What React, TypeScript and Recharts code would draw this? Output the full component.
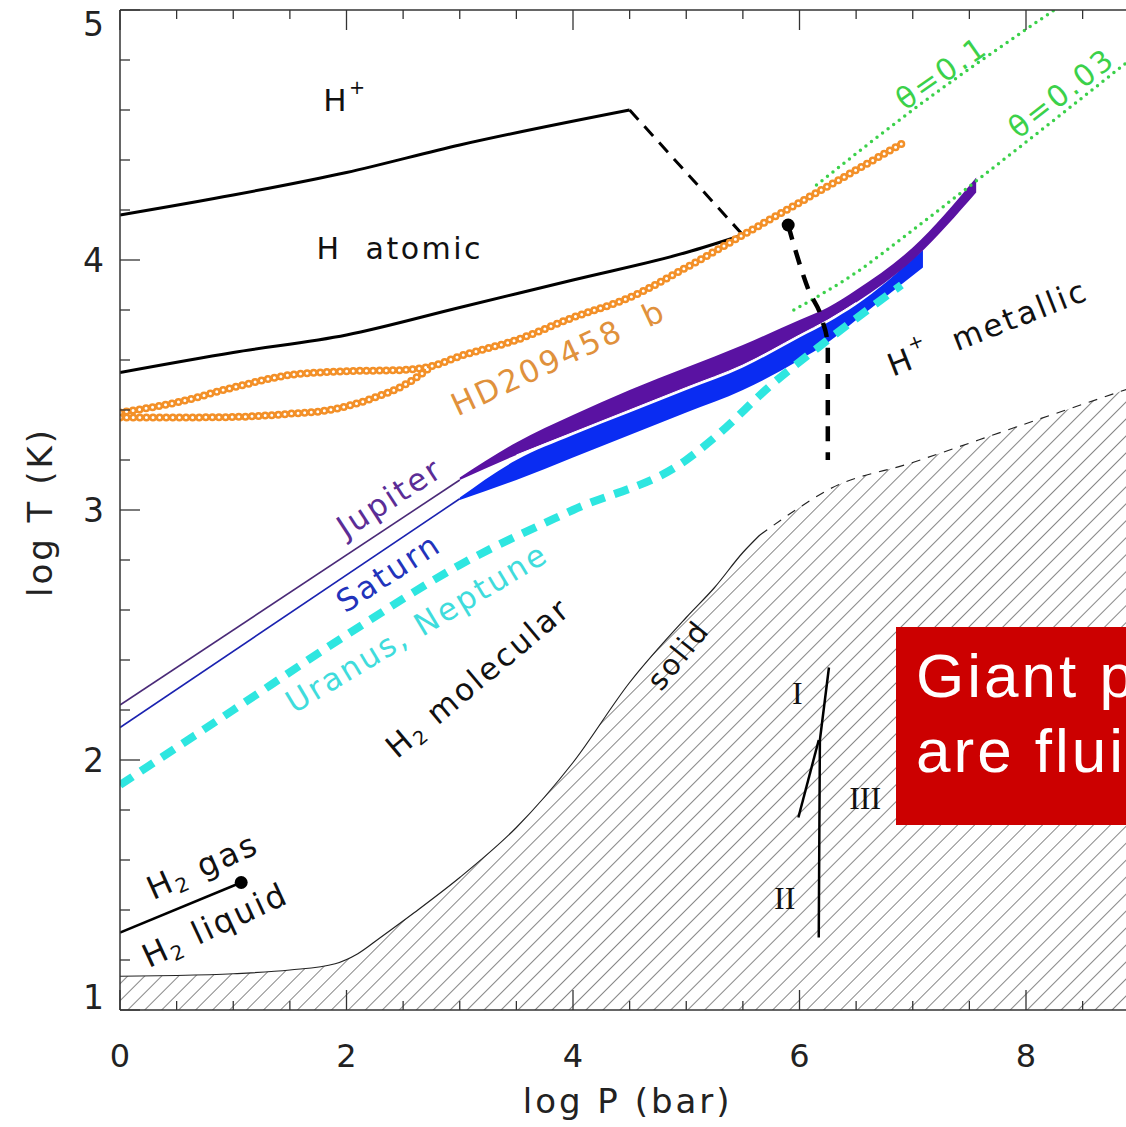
import React from 'react'
import { ComposedChart, XAxis, YAxis, Line, Area, Scatter } from 'recharts'

// axis ticks (log P in bar, log T in K)
const xTicks = [0, 0.5, 1, 1.5, 2, 2.5, 3, 3.5, 4, 4.5, 5, 5.5, 6, 6.5, 7, 7.5, 8, 8.5, 9]
const yTicks = [1, 1.2, 1.4, 1.6, 1.8, 2, 2.2, 2.4, 2.6, 2.8, 3, 3.2, 3.4, 3.6, 3.8, 4, 4.2, 4.4, 4.6, 4.8, 5]

// H+ / H atomic boundary
const ionX = [0, 1, 2, 3, 4.5]
const ionY = [4.18, 4.26, 4.35, 4.46, 4.6]
const ionDashX = [4.5, 5.5]
const ionDashY = [4.6, 4.1]
// H atomic / H2 molecular boundary
const atomX = [0, 1, 2, 3, 4, 5, 5.5]
const atomY = [3.55, 3.63, 3.7, 3.81, 3.92, 4.03, 4.1]
// molecular / metallic transition (critical point first)
const metalX = [5.9, 5.95, 6.08, 6.2, 6.25, 6.25]
const metalY = [4.14, 4.06, 3.88, 3.76, 3.66, 3.2]
// H2 gas / liquid line
const liquidX = [0, 1.07]
const liquidY = [1.31, 1.51]
// melting curve (solid region below)
const meltX = [0, 0.5, 1, 1.5, 1.9, 2.1, 2.3, 2.6, 3, 3.5, 4, 4.5, 5, 5.25, 5.5, 5.65, 6, 6.25, 7, 7.9, 9]
const meltY = [1.135, 1.138, 1.145, 1.16, 1.185, 1.225, 1.29, 1.39, 1.53, 1.73, 1.99, 2.31, 2.57, 2.69, 2.83, 2.9, 3.01, 3.08, 3.19, 3.33, 3.5]
const meltSolidCount = 16
// solid phases I / II / III
const phaseAX = [6.26, 6.18, 6.17]
const phaseAY = [2.37, 2.08, 1.29]
const phaseBX = [6.17, 5.99]
const phaseBY = [2.08, 1.77]

// planetary profiles
const jupThinX = [0, 3]
const jupThinY = [2.22, 3.12]
const satThinX = [0, 3]
const satThinY = [2.13, 3.045]
const jupBandX = [3, 3.5, 4, 4.5, 5, 5.5, 6, 6.25, 6.5, 7, 7.56]
const jupBandLo = [3.12, 3.22, 3.31, 3.4, 3.49, 3.58, 3.7, 3.76, 3.83, 4.0, 4.27]
const jupBandHi = [3.13, 3.27, 3.38, 3.48, 3.57, 3.66, 3.76, 3.81, 3.88, 4.05, 4.33]
const satBandX = [3, 3.5, 4, 4.5, 5, 5.5, 6, 6.25, 6.5, 7.09]
const satBandLo = [3.04, 3.12, 3.21, 3.3, 3.39, 3.48, 3.6, 3.67, 3.76, 3.97]
const satBandHi = [3.05, 3.2, 3.3, 3.39, 3.48, 3.57, 3.69, 3.75, 3.82, 4.04]
const uranusX = [0, 1, 2, 3, 4, 5, 5.25, 5.75, 6.25, 6.9]
const uranusY = [1.9, 2.2, 2.5, 2.78, 3.0, 3.2, 3.29, 3.5, 3.68, 3.9]
const hdUpperX = [0, 0.5, 1, 1.5, 2, 2.5, 2.75, 3, 3.5, 4, 4.5, 5, 5.5, 6, 6.5, 6.92]
const hdUpperY = [3.39, 3.43, 3.49, 3.54, 3.555, 3.56, 3.575, 3.615, 3.68, 3.77, 3.85, 3.97, 4.1, 4.23, 4.36, 4.47]
const hdLowerX = [0, 0.5, 1, 1.5, 1.85, 2.25, 2.55, 2.75]
const hdLowerY = [3.37, 3.37, 3.372, 3.385, 3.4, 3.45, 3.51, 3.575]
// degeneracy lines
const theta1X = [6.15, 6.97, 8.25]
const theta1Y = [4.3, 4.59, 5.0]
const theta03X = [5.95, 6.5, 7.0, 7.6, 9]
const theta03Y = [3.8, 3.95, 4.12, 4.33, 4.83]
// critical points
const critX = [5.9, 1.07]
const critY = [4.14, 1.51]

const labelText = ['H^+', 'H  atomic', 'HD209458  b', 'Jupiter', 'Saturn', 'Uranus, Neptune', 'H_2 molecular', 'solid',
  'H^+  metallic', 'H_2 gas', 'H_2 liquid', 'θ=0.1', 'θ=0.03', 'I', 'II', 'III']
const labelX = [1.99, 2.47, 3.87, 2.38, 2.37, 2.62, 3.16, 4.93, 7.66, 0.73, 0.84, 7.25, 8.31, 5.98, 5.87, 6.58]
const labelY = [4.64, 4.05, 3.61, 3.05, 2.75, 2.53, 2.33, 2.42, 3.73, 1.576, 1.34, 4.75, 4.67, 2.27, 1.45, 1.85]

const SANS = 'DejaVu Sans, sans-serif'
const SERIF = 'Liberation Serif, serif'

const labelLook: Record<string, { color: string; angle: number; size: number; font?: string }> = {
  'H^+': { color: '#111', angle: 0, size: 31 },
  'H  atomic': { color: '#111', angle: 0, size: 30 },
  'HD209458  b': { color: '#e0913c', angle: 25, size: 31 },
  Jupiter: { color: '#5b2d96', angle: 33, size: 31 },
  Saturn: { color: '#2233bb', angle: 33, size: 31 },
  'Uranus, Neptune': { color: '#3fdcdc', angle: 31, size: 31 },
  'H_2 molecular': { color: '#111', angle: 40, size: 31 },
  solid: { color: '#111', angle: 51, size: 29 },
  'H^+  metallic': { color: '#111', angle: 21.5, size: 31 },
  'H_2 gas': { color: '#111', angle: 24, size: 32 },
  'H_2 liquid': { color: '#111', angle: 25, size: 32 },
  'θ=0.1': { color: '#3bd14a', angle: 35, size: 30 },
  'θ=0.03': { color: '#3bd14a', angle: 38, size: 30 },
  I: { color: '#111', angle: 0, size: 32, font: SERIF },
  II: { color: '#111', angle: 0, size: 32, font: SERIF },
  III: { color: '#111', angle: 0, size: 32, font: SERIF },
}

const pts = (xs: number[], ys: number[]) => xs.map((x, i) => ({ x, y: ys[i] }))
const band = (xs: number[], lo: number[], hi: number[]) => xs.map((x, i) => ({ x, r: [lo[i], hi[i]] }))

const meltPts = pts(meltX, meltY)
const labels = labelText.map((text, i) => ({ x: labelX[i], y: labelY[i], text }))

function richText(s: string, size: number) {
  const segs: { t: string; off: number; small: boolean }[] = []
  for (let i = 0; i < s.length; i++) {
    const c = s[i]
    if ((c === '^' || c === '_') && i + 1 < s.length) {
      segs.push({ t: s[i + 1], off: c === '^' ? -0.42 * size : 0.28 * size, small: true })
      i++
    } else if (segs.length && !segs[segs.length - 1].small) {
      segs[segs.length - 1].t += c
    } else {
      segs.push({ t: c, off: 0, small: false })
    }
  }
  let prev = 0
  return segs.map((g, k) => {
    const dy = g.off - prev
    prev = g.off
    return <tspan key={k} dy={dy} fontSize={g.small ? size * 0.62 : size}>{g.t}</tspan>
  })
}

function LabelShape(props: any) {
  const { cx, cy, payload } = props
  const look = labelLook[payload.text]
  return (
    <text
      x={cx} y={cy}
      transform={`rotate(${-look.angle} ${cx} ${cy})`}
      textAnchor="middle" dominantBaseline="central"
      fill={look.color} fontSize={look.size} fontFamily={look.font || SANS}
      letterSpacing={look.font ? 0 : 2.5}
      style={{ whiteSpace: 'pre' }}
    >
      {richText(payload.text, look.size)}
    </text>
  )
}

function DotShape(props: any) {
  return <circle cx={props.cx} cy={props.cy} r={6.5} fill="#000" />
}

const isMajorY = (v: number) => Math.abs(v - Math.round(v)) < 1e-6

function BottomTick({ x, y, payload }: any) {
  const v = payload.value
  const major = v % 2 === 0
  return (
    <g>
      <line x1={x} x2={x} y1={y} y2={y - (major ? 20 : 9)} stroke="#333" strokeWidth={1.3} />
      {major && (
        <text x={x} y={y + 46} textAnchor="middle" dominantBaseline="central" fontSize={32} fontFamily={SANS} fill="#222">
          {v}
        </text>
      )}
    </g>
  )
}

function TopTick({ x, y, payload }: any) {
  const major = payload.value % 2 === 0
  return <line x1={x} x2={x} y1={y} y2={y + (major ? 20 : 9)} stroke="#333" strokeWidth={1.3} />
}

function LeftTick({ x, y, payload }: any) {
  const v = payload.value
  const major = isMajorY(v)
  const ly = Math.min(Math.max(y, 24), 997)
  return (
    <g>
      <line x1={x} x2={x + (major ? 20 : 10)} y1={y} y2={y} stroke="#333" strokeWidth={1.3} />
      {major && (
        <text x={x - 16} y={ly} textAnchor="end" dominantBaseline="central" fontSize={33} fontFamily={SANS} fill="#222">
          {Math.round(v)}
        </text>
      )}
    </g>
  )
}

function XTitle(props: any) {
  const vb = props.viewBox
  if (!vb) return null
  return (
    <text x={vb.x + vb.width / 2 - 2} y={vb.y + 103} textAnchor="middle" fontSize={34} letterSpacing={3} fontFamily={SANS} fill="#222">
      log P (bar)
    </text>
  )
}

function YTitle(props: any) {
  const vb = props.viewBox
  if (!vb) return null
  const cx = vb.x - 20
  const cy = vb.y + vb.height / 2 + 2
  return (
    <text transform={`translate(${cx} ${cy}) rotate(-90)`} textAnchor="middle" dominantBaseline="central" fontSize={34} letterSpacing={3} fontFamily={SANS} fill="#222">
      log T (K)
    </text>
  )
}

function line(key: string, data: any[], stroke: string, width: number, extra: any = {}) {
  return (
    <Line
      key={key}
      data={data}
      dataKey="y"
      type={extra.type || 'monotone'}
      stroke={stroke}
      strokeWidth={width}
      strokeDasharray={extra.dash}
      strokeLinecap={extra.cap || 'butt'}
      dot={false}
      activeDot={false}
      isAnimationActive={false}
      legendType="none"
    />
  )
}

export default function App() {
  return (
    <div style={{ position: 'relative', width: 1126, height: 1127, overflow: 'hidden', background: '#fff' }}>
      <style>{'body{margin:0;overflow:hidden}'}</style>
      <ComposedChart width={1150} height={1127} margin={{ top: 0, right: 10.75, bottom: 57, left: 60 }}>
        <defs>
          <pattern id="hatch" patternUnits="userSpaceOnUse" width="12" height="12" patternTransform="rotate(45)">
            <line x1="0" y1="0" x2="0" y2="12" stroke="#222" strokeWidth="1.1" />
          </pattern>
        </defs>
        <XAxis
          dataKey="x" type="number" domain={[0, 9]} ticks={xTicks} interval={0} allowDataOverflow
          height={60} tickSize={0} tickMargin={0} tick={<BottomTick />}
          axisLine={{ stroke: '#333', strokeWidth: 1.5 }} label={<XTitle />}
        />
        <XAxis
          xAxisId="top" orientation="top" dataKey="x" type="number" domain={[0, 9]} ticks={xTicks} interval={0}
          allowDataOverflow height={10} tickSize={0} tickMargin={0} tick={<TopTick />}
          axisLine={{ stroke: '#333', strokeWidth: 1.5 }}
        />
        <YAxis
          dataKey="y" type="number" domain={[1, 5]} ticks={yTicks} interval={0} allowDataOverflow
          width={60} tickSize={0} tickMargin={0} tick={<LeftTick />}
          axisLine={{ stroke: '#333', strokeWidth: 1.5 }} label={<YTitle />}
        />

        <Area
          data={meltPts.map(p => ({ x: p.x, r: [1, p.y] }))} dataKey="r" type="monotone"
          fill="url(#hatch)" fillOpacity={1} stroke="none" isAnimationActive={false} legendType="none" activeDot={false}
        />
        {line('meltSolid', meltPts.slice(0, meltSolidCount), '#222', 1.2)}
        {line('meltDash', meltPts.slice(meltSolidCount - 1), '#222', 1.2, { dash: '9 8' })}
        {line('phaseA', pts(phaseAX, phaseAY), '#000', 2.5, { type: 'linear' })}
        {line('phaseB', pts(phaseBX, phaseBY), '#000', 2.5, { type: 'linear' })}
        {line('liquid', pts(liquidX, liquidY), '#000', 2.5, { type: 'linear' })}

        {line('theta1', pts(theta1X, theta1Y), '#3bd14a', 3.5, { dash: '0 7', cap: 'round' })}
        {line('theta03', pts(theta03X, theta03Y), '#3bd14a', 3.5, { dash: '0 7', cap: 'round' })}

        {line('ion', pts(ionX, ionY), '#000', 3)}
        {line('ionDash', pts(ionDashX, ionDashY), '#000', 3, { dash: '13 9', type: 'linear' })}
        {line('atom', pts(atomX, atomY), '#000', 3)}

        {line('uranus', pts(uranusX, uranusY), '#2ee6e0', 8, { dash: '15 10' })}
        {line('jupThin', pts(jupThinX, jupThinY), '#4a2a78', 1.6, { type: 'linear' })}
        {line('satThin', pts(satThinX, satThinY), '#1a22b0', 1.6, { type: 'linear' })}
        <Area
          data={band(satBandX, satBandLo, satBandHi)} dataKey="r" type="monotone"
          fill="#0a2cf2" fillOpacity={1} stroke="none" isAnimationActive={false} legendType="none" activeDot={false}
        />
        <Area
          data={band(jupBandX, jupBandLo, jupBandHi)} dataKey="r" type="monotone"
          fill="#5a12a2" fillOpacity={1} stroke="none" isAnimationActive={false} legendType="none" activeDot={false}
        />
        {line('jupSep', pts(jupBandX.slice(1, 9), jupBandLo.slice(1, 9)), '#ffffff', 1)}

        {line('metal', pts(metalX, metalY), '#000', 4.5, { dash: '15 11' })}

        {line('hdLowerRing', pts(hdLowerX, hdLowerY), '#f39028', 8, { dash: '0 6.6', cap: 'round' })}
        {line('hdUpperRing', pts(hdUpperX, hdUpperY), '#f39028', 8, { dash: '0 6.6', cap: 'round' })}
        {line('hdLowerHole', pts(hdLowerX, hdLowerY), '#ffffff', 3, { dash: '0 6.6', cap: 'round' })}
        {line('hdUpperHole', pts(hdUpperX, hdUpperY), '#ffffff', 3, { dash: '0 6.6', cap: 'round' })}

        <Scatter data={pts(critX, critY)} dataKey="y" shape={<DotShape />} isAnimationActive={false} legendType="none" />
        <Scatter data={labels} dataKey="y" shape={<LabelShape />} isAnimationActive={false} legendType="none" />
      </ComposedChart>

      <div
        style={{
          position: 'absolute', left: 896, top: 627, width: 420, height: 198, background: '#cc0000',
          color: '#fff', fontFamily: 'Liberation Sans, Arial, sans-serif', fontSize: 62, lineHeight: '75px',
          letterSpacing: 3, paddingLeft: 20, paddingTop: 11, boxSizing: 'border-box', whiteSpace: 'nowrap',
        }}
      >
        <div>Giant planets</div>
        <div>are fluid</div>
      </div>
    </div>
  )
}
